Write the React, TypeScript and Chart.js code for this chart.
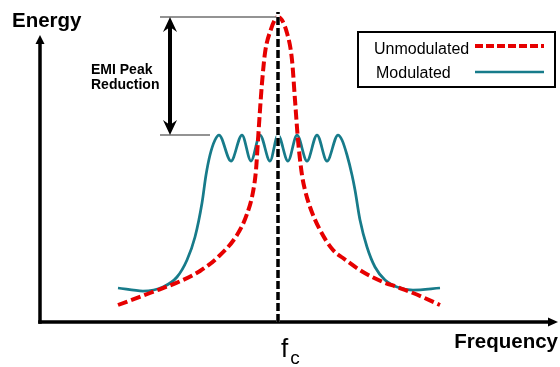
import React, { useEffect, useRef } from "react";
import { Chart, registerables } from "chart.js";

Chart.register(...registerables);

// ---- data (frequency offset from fc, relative energy) ----
const FC = 0;
const X_MIN = -238;
const X_MAX = 280;
const Y_MIN = 0;
const Y_MAX = 312;
const Y_AXIS_TOP = 287;

const SERIES_NAMES = ["Unmodulated", "Modulated"];
const Y_TITLE = "Energy";
const X_TITLE = "Frequency";
const FC_LABEL = "f";
const FC_SUB = "c";
const NOTE_LINES = ["EMI Peak", "Reduction"];

const unmodX = [-160, -128, -95, -78, -61, -41, -31, -25, -22, -20, -18, -16, -13, -8, 0, 9, 14, 17, 20, 24, 27, 32, 42, 55, 65, 85, 105, 119, 135, 162];
const unmodY = [17, 29, 42, 51, 64, 87, 108, 130, 152, 182, 212, 239, 269, 290, 305, 289, 262, 222, 182, 147, 132, 115, 92, 72, 64, 50, 40, 35, 29, 17];

const modX = [-160, -135, -115, -101, -91, -83, -76, -72, -68, -63, -59, -47, -36, -27, -18, -8, 0, 10, 19, 29, 39, 49, 60, 64, 69, 74, 77, 82, 89, 97, 107, 119, 135, 162];
const modY = [34, 31, 35, 45, 62, 85, 119, 147, 167, 182, 187, 161, 187, 161, 187, 161, 187, 161, 187, 161, 187, 161, 187, 182, 167, 147, 132, 102, 75, 55, 42, 35, 32, 34];

const FC_LINE_Y = [0, 310];

const PEAK_LEVEL = 305;
const MOD_LEVEL = 187;
const REF_LINE_START = -118;
const MOD_LINE_END = -68;
const ARROW_X = -108;

// ---- styles ----
const RED = "#e60000";
const TEAL = "#177b8a";
const FONT = "'Liberation Sans', Arial, sans-serif";

function pts(xs: number[], ys: number[]) {
  return xs.map((x, i) => ({ x, y: ys[i] }));
}

function stealthHead(ctx: CanvasRenderingContext2D, x: number, tipY: number, dir: number) {
  // dir = 1: head points up (body below), dir = -1: points down
  ctx.beginPath();
  ctx.moveTo(x, tipY);
  ctx.lineTo(x + 7, tipY + dir * 15);
  ctx.lineTo(x, tipY + dir * 10);
  ctx.lineTo(x - 7, tipY + dir * 15);
  ctx.closePath();
  ctx.fill();
}

const decorPlugin = {
  id: "decor",
  beforeDatasetsDraw(chart: any) {
    const ctx = chart.ctx;
    const xs = chart.scales.x;
    const ys = chart.scales.y;
    const x0 = xs.getPixelForValue(X_MIN);
    const x1 = xs.getPixelForValue(X_MAX);
    const y0 = ys.getPixelForValue(Y_MIN);
    const yTop = ys.getPixelForValue(Y_AXIS_TOP);
    ctx.save();
    ctx.strokeStyle = "#000";
    ctx.fillStyle = "#000";
    ctx.lineWidth = 3.5;
    ctx.lineCap = "butt";
    // y axis
    ctx.beginPath();
    ctx.moveTo(x0, y0 + 1.75);
    ctx.lineTo(x0, yTop + 6);
    ctx.stroke();
    ctx.beginPath();
    ctx.moveTo(x0, yTop);
    ctx.lineTo(x0 - 4.5, yTop + 9);
    ctx.lineTo(x0 + 4.5, yTop + 9);
    ctx.closePath();
    ctx.fill();
    // x axis
    ctx.beginPath();
    ctx.moveTo(x0 - 1.75, y0);
    ctx.lineTo(x1 - 6, y0);
    ctx.stroke();
    ctx.beginPath();
    ctx.moveTo(x1, y0);
    ctx.lineTo(x1 - 10, y0 - 4.5);
    ctx.lineTo(x1 - 10, y0 + 4.5);
    ctx.closePath();
    ctx.fill();
    ctx.restore();
  },
  afterDraw(chart: any) {
    const ctx = chart.ctx;
    const xs = chart.scales.x;
    const ys = chart.scales.y;
    const yPeak = ys.getPixelForValue(PEAK_LEVEL);
    const yMod = ys.getPixelForValue(MOD_LEVEL);
    const xStart = xs.getPixelForValue(REF_LINE_START);
    const xFc = xs.getPixelForValue(FC);
    const xModEnd = xs.getPixelForValue(MOD_LINE_END);
    const xArrow = xs.getPixelForValue(ARROW_X);
    const y0 = ys.getPixelForValue(Y_MIN);
    ctx.save();
    // reference lines
    ctx.strokeStyle = "#707070";
    ctx.lineWidth = 1.3;
    ctx.beginPath();
    ctx.moveTo(xStart, yPeak);
    ctx.lineTo(xFc - 2, yPeak);
    ctx.moveTo(xStart, yMod);
    ctx.lineTo(xModEnd, yMod);
    ctx.stroke();
    // double arrow
    ctx.strokeStyle = "#000";
    ctx.fillStyle = "#000";
    ctx.lineWidth = 4;
    ctx.beginPath();
    ctx.moveTo(xArrow, yPeak + 8);
    ctx.lineTo(xArrow, yMod - 8);
    ctx.stroke();
    stealthHead(ctx, xArrow, yPeak, 1);
    stealthHead(ctx, xArrow, yMod, -1);
    // note text
    ctx.font = `bold 14px ${FONT}`;
    ctx.textAlign = "left";
    ctx.textBaseline = "alphabetic";
    const midY = (yPeak + yMod) / 2;
    ctx.fillText(NOTE_LINES[0], xArrow - 79, midY - 2);
    ctx.fillText(NOTE_LINES[1], xArrow - 79, midY + 13);
    // axis titles
    ctx.font = `bold 20.5px ${FONT}`;
    ctx.fillText(Y_TITLE, 12, 27);
    ctx.textAlign = "right";
    ctx.fillText(X_TITLE, chart.width - 2, y0 + 26);
    // fc label
    ctx.textAlign = "left";
    ctx.font = `26px ${FONT}`;
    ctx.fillText(FC_LABEL, xFc + 3, y0 + 35);
    const fw = ctx.measureText(FC_LABEL).width;
    ctx.font = `19px ${FONT}`;
    ctx.fillText(FC_SUB, xFc + 3 + fw + 2, y0 + 42);
    // legend
    const bx = 358, by = 32, bw = 197, bh = 55;
    ctx.strokeStyle = "#000";
    ctx.lineWidth = 2;
    ctx.strokeRect(bx, by, bw, bh);
    ctx.font = `16px ${FONT}`;
    ctx.fillText(SERIES_NAMES[0], bx + 16, by + 22);
    ctx.fillText(SERIES_NAMES[1], bx + 18, by + 46);
    ctx.lineCap = "butt";
    ctx.strokeStyle = RED;
    ctx.lineWidth = 4;
    ctx.setLineDash([8, 3]);
    ctx.beginPath();
    ctx.moveTo(bx + 117, by + 14);
    ctx.lineTo(bx + 186, by + 14);
    ctx.stroke();
    ctx.setLineDash([]);
    ctx.strokeStyle = TEAL;
    ctx.lineWidth = 2.5;
    ctx.beginPath();
    ctx.moveTo(bx + 117, by + 40);
    ctx.lineTo(bx + 186, by + 40);
    ctx.stroke();
    ctx.restore();
  },
};

export default function App() {
  const ref = useRef<HTMLCanvasElement | null>(null);
  useEffect(() => {
    if (!ref.current) return;
    const chart = new Chart(ref.current, {
      type: "line",
      data: {
        datasets: [
          {
            label: "fc",
            data: pts([FC, FC], FC_LINE_Y),
            borderColor: "#000",
            borderWidth: 3.5,
            borderDash: [8, 3],
            pointRadius: 0,
            tension: 0,
            clip: false,
          },
          {
            label: "fc-under",
            data: pts([FC, FC], FC_LINE_Y),
            borderColor: "#fff",
            borderWidth: 3.5,
            pointRadius: 0,
            tension: 0,
            clip: false,
          },
          {
            label: SERIES_NAMES[0],
            data: pts(unmodX, unmodY),
            borderColor: RED,
            borderWidth: 4,
            borderDash: [10, 4],
            pointRadius: 0,
            cubicInterpolationMode: "monotone",
            clip: false,
          },
          {
            label: SERIES_NAMES[1],
            data: pts(modX, modY),
            borderColor: TEAL,
            borderWidth: 2.75,
            pointRadius: 0,
            cubicInterpolationMode: "monotone",
            clip: false,
          },
        ],
      } as any,
      options: {
        animation: false,
        responsive: false,
        events: [],
        layout: { padding: { left: 40, right: 2, top: 10, bottom: 45 } },
        plugins: { legend: { display: false }, tooltip: { enabled: false } },
        scales: {
          x: { type: "linear", min: X_MIN, max: X_MAX, display: false },
          y: { type: "linear", min: Y_MIN, max: Y_MAX, display: false },
        },
      },
      plugins: [decorPlugin],
    });
    return () => chart.destroy();
  }, []);
  return (
    <div style={{ position: "fixed", left: 0, top: 0, width: 560, height: 367, background: "#fff" }}>
      <canvas ref={ref} width={560} height={367} />
    </div>
  );
}
